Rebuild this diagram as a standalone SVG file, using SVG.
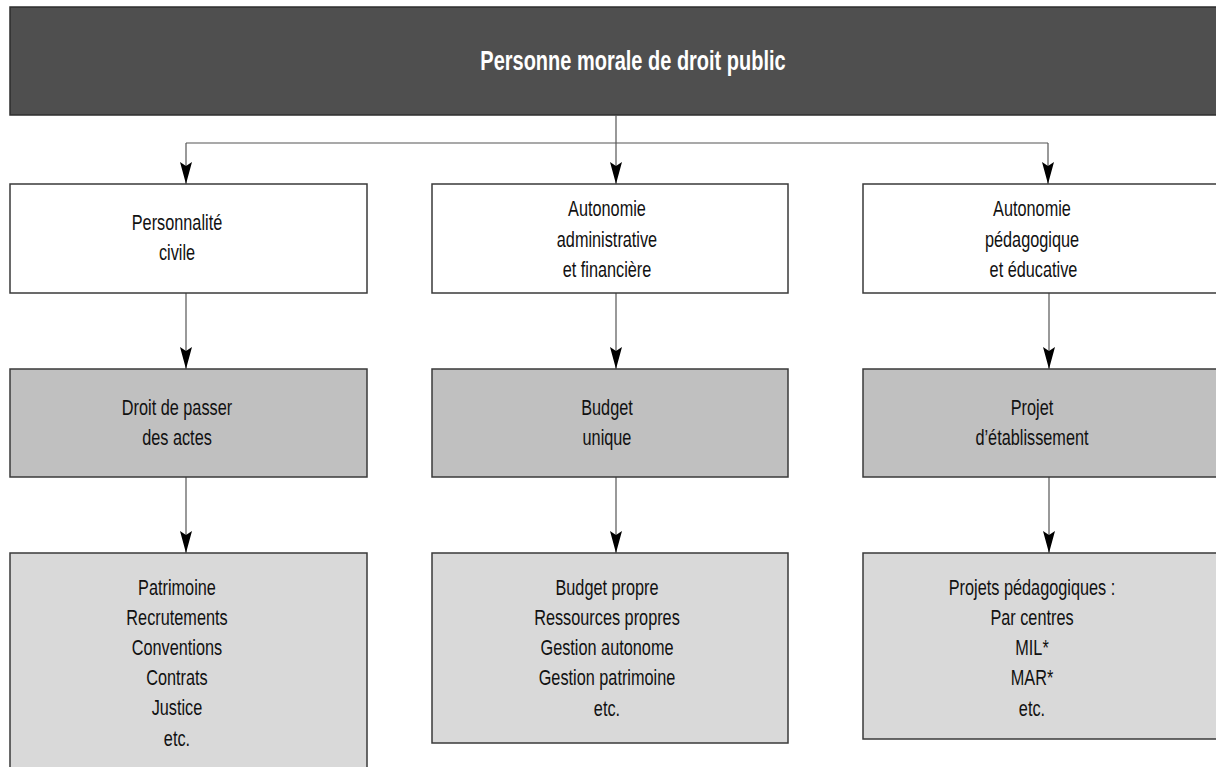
<svg xmlns="http://www.w3.org/2000/svg" width="1216" height="767" viewBox="0 0 1216 767">
<style>
  .box{stroke:#3a3a3a;stroke-width:1.5}
  .w{fill:#ffffff}
  .g2{fill:#c0c0c0}
  .g3{fill:#d9d9d9}
  .hdr{fill:#4f4f4f;stroke:#2e2e2e;stroke-width:1.5}
  .t{font-family:"Liberation Sans",Arial,sans-serif;font-size:22px;fill:#111;text-anchor:middle}
  .th{font-family:"Liberation Sans",Arial,sans-serif;font-size:27px;font-weight:bold;fill:#ffffff;text-anchor:middle}
  .c{stroke:#555;stroke-width:1.2;fill:none}
</style>
<defs>
  <marker id="arr" markerUnits="userSpaceOnUse" markerWidth="24" markerHeight="14" viewBox="0 -7 24 14" refX="22" refY="0" orient="auto">
    <path d="M0,-6 L22,0 L0,6 L4,0 Z" fill="#000"/>
  </marker>
</defs>
<g id="header">
  <rect class="hdr" x="10" y="7" width="1220" height="108"/>
  <g transform="matrix(0.74,0,0,1,164.58,0)">
    <text class="th" x="633" y="70">Personne morale de droit public</text>
  </g>
</g>
<g id="connectors">
  <path class="c" d="M616,115 V143 M186,143 H1048"/>
  <path class="c" d="M186,143 V184" marker-end="url(#arr)"/>
  <path class="c" d="M616,143 V184" marker-end="url(#arr)"/>
  <path class="c" d="M1048,143 V184" marker-end="url(#arr)"/>
  <path class="c" d="M186,293 V369" marker-end="url(#arr)"/>
  <path class="c" d="M616,293 V369" marker-end="url(#arr)"/>
  <path class="c" d="M1049,293 V369" marker-end="url(#arr)"/>
  <path class="c" d="M186,477 V553" marker-end="url(#arr)"/>
  <path class="c" d="M616,477 V553" marker-end="url(#arr)"/>
  <path class="c" d="M1049,477 V553" marker-end="url(#arr)"/>
</g>
<g id="personnalite">
  <rect class="box w" x="10" y="184" width="357" height="109"/>
  <g transform="matrix(0.74,0,0,1,46.02,0)">
    <text class="t" x="177" y="230">Personnalité</text>
    <text class="t" x="177" y="260">civile</text>
  </g>
</g>
<g id="autonomie-admin">
  <rect class="box w" x="432" y="184" width="356" height="109"/>
  <g transform="matrix(0.74,0,0,1,157.82,0)">
    <text class="t" x="607" y="216">Autonomie</text>
    <text class="t" x="607" y="247">administrative</text>
    <text class="t" x="607" y="277">et financière</text>
  </g>
</g>
<g id="autonomie-peda">
  <rect class="box w" x="863" y="184" width="360" height="109"/>
  <g transform="matrix(0.74,0,0,1,268.32,0)">
    <text class="t" x="1032" y="216">Autonomie</text>
    <text class="t" x="1032" y="247">pédagogique</text>
    <text class="t" x="1034" y="277">et éducative</text>
  </g>
</g>
<g id="droit">
  <rect class="box g2" x="10" y="369" width="357" height="108"/>
  <g transform="matrix(0.74,0,0,1,46.02,0)">
    <text class="t" x="177" y="415">Droit de passer</text>
    <text class="t" x="177" y="445">des actes</text>
  </g>
</g>
<g id="budget">
  <rect class="box g2" x="432" y="369" width="356" height="108"/>
  <g transform="matrix(0.74,0,0,1,157.82,0)">
    <text class="t" x="607" y="415">Budget</text>
    <text class="t" x="607" y="445">unique</text>
  </g>
</g>
<g id="projet">
  <rect class="box g2" x="863" y="369" width="360" height="108"/>
  <g transform="matrix(0.74,0,0,1,268.32,0)">
    <text class="t" x="1032" y="415">Projet</text>
    <text class="t" x="1032" y="445">d’établissement</text>
  </g>
</g>
<g id="patrimoine">
  <rect class="box g3" x="10" y="553" width="357" height="225"/>
  <g transform="matrix(0.74,0,0,1,46.02,0)">
    <text class="t" x="177" y="595">Patrimoine</text>
    <text class="t" x="177" y="625">Recrutements</text>
    <text class="t" x="177" y="655">Conventions</text>
    <text class="t" x="177" y="685">Contrats</text>
    <text class="t" x="177" y="715">Justice</text>
    <text class="t" x="177" y="746">etc.</text>
  </g>
</g>
<g id="budget-propre">
  <rect class="box g3" x="432" y="553" width="356" height="190"/>
  <g transform="matrix(0.74,0,0,1,157.82,0)">
    <text class="t" x="607" y="595">Budget propre</text>
    <text class="t" x="607" y="625">Ressources propres</text>
    <text class="t" x="607" y="655">Gestion autonome</text>
    <text class="t" x="607" y="685">Gestion patrimoine</text>
    <text class="t" x="607" y="716">etc.</text>
  </g>
</g>
<g id="projets-peda">
  <rect class="box g3" x="863" y="553" width="360" height="186"/>
  <g transform="matrix(0.74,0,0,1,268.32,0)">
    <text class="t" x="1032" y="595">Projets pédagogiques :</text>
    <text class="t" x="1032" y="625">Par centres</text>
    <text class="t" x="1032" y="655">MIL*</text>
    <text class="t" x="1032" y="685">MAR*</text>
    <text class="t" x="1032" y="716">etc.</text>
  </g>
</g>
</svg>
